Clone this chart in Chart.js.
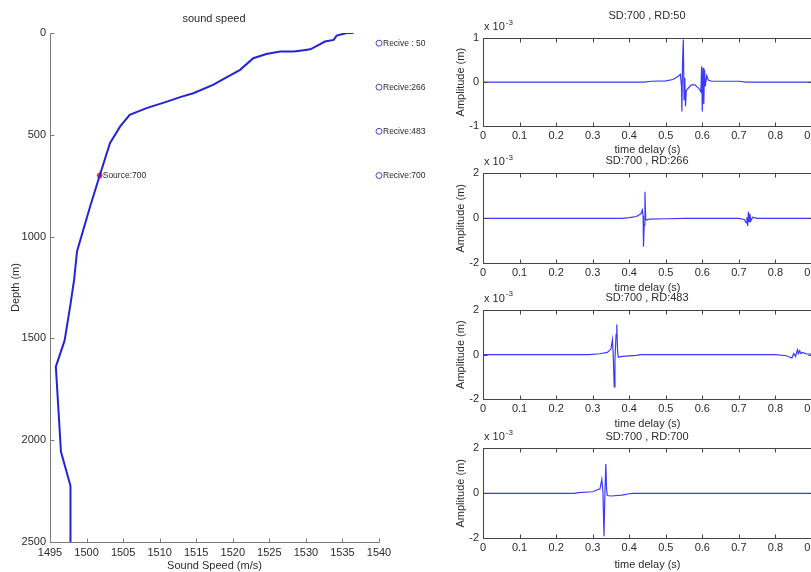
<!DOCTYPE html>
<html>
<head>
<meta charset="utf-8">
<script src="https://cdn.jsdelivr.net/npm/chart.js@4.4.1/dist/chart.umd.min.js"></script>
<style>
  html, body { margin: 0; padding: 0; background: #fff; overflow: hidden; width: 811px; height: 572px; position: relative; }
  canvas { position: absolute; display: block; }
</style>
</head>
<body>
<canvas id="profile" width="428" height="573" style="left:0;top:0"></canvas>
<canvas id="rd50" width="414" height="157" style="left:440px;top:0"></canvas>
<canvas id="rd266" width="414" height="155" style="left:440px;top:140px"></canvas>
<canvas id="rd483" width="414" height="151" style="left:440px;top:280px"></canvas>
<canvas id="rd700" width="414" height="152" style="left:440px;top:420px"></canvas>
<script>
// ---- sound-speed profile: speed (m/s) against depth (m) ----
const profileSpeed = [1536.5, 1535.6, 1534.2, 1533.8, 1532.6, 1531.7, 1530.6, 1529.2, 1528.3, 1526.5,
                      1524.6, 1522.8, 1521.0, 1519.2, 1517.3, 1514.6, 1512.8, 1511.0, 1508.2, 1505.9,
                      1504.6, 1503.2, 1501.8, 1500.5, 1498.7, 1498.3, 1497.8, 1497.0, 1495.8, 1496.5,
                      1497.8, 1497.8];
const profileDepth = [0, 0, 13, 34, 42, 59, 80, 87, 91, 91,
                      103, 124, 181, 217, 255, 296, 315, 337, 369, 402,
                      459, 541, 700, 851, 1072, 1211, 1333, 1510, 1639, 2057,
                      2224, 2500];

// source and receiver positions
const sourceSpeed = 1501.8;
const sourceDepth = 700;
const sourceLabel = 'Source:700';
const receiverSpeed = 1540;
const receiverDepths = [50, 266, 483, 700];
const receiverLabels = ['Recive : 50', 'Recive:266', 'Recive:483', 'Recive:700'];

// axis ticks
const speedTicks = [1495, 1500, 1505, 1510, 1515, 1520, 1525, 1530, 1535, 1540];
const depthTicks = [0, 500, 1000, 1500, 2000, 2500];
const delayTicks = [0, 0.1, 0.2, 0.3, 0.4, 0.5, 0.6, 0.7, 0.8, 0.9];

// ---- arrival waveforms, amplitude in units of 1e-3 m ----
const rd50Time = [0, 0.44, 0.46, 0.50, 0.52, 0.535, 0.540, 0.543, 0.544, 0.546, 0.548, 0.550, 0.552, 0.554,
                  0.556, 0.560, 0.570, 0.580, 0.590, 0.596, 0.598, 0.600, 0.602, 0.604, 0.606, 0.608,
                  0.612, 0.616, 0.625, 0.70, 0.72, 0.9];
const rd50Amp  = [0, 0, 0.02, 0.03, 0.06, 0.14, 0.18, -0.1, -0.67, 0.5, 0.97, -0.40, 0.1, -0.55,
                  -0.2, -0.15, -0.06, -0.06, -0.14, -0.22, 0.36, -0.67, 0.33, -0.5, 0.28, -0.1,
                  0.15, 0.05, 0.02, 0.02, 0, 0];

const rd266Time = [0, 0.38, 0.40, 0.42, 0.432, 0.436, 0.438, 0.439, 0.441, 0.443, 0.445, 0.447, 0.455,
                   0.50, 0.55, 0.70, 0.715, 0.720, 0.722, 0.724, 0.726, 0.728, 0.730, 0.733, 0.738, 0.75, 0.9];
const rd266Amp  = [0, 0, 0.03, 0.08, 0.2, 0.37, 0.1, -1.26, -0.3, 1.18, 0.0, -0.08, -0.04,
                   -0.02, 0, 0, -0.05, -0.2, 0.05, -0.34, 0.29, -0.15, 0.2, -0.1, 0.05, 0, 0];

const rd483Time = [0, 0.29, 0.32, 0.34, 0.350, 0.354, 0.356, 0.359, 0.361, 0.364, 0.366, 0.368, 0.370,
                   0.38, 0.42, 0.43, 0.80, 0.83, 0.845, 0.850, 0.855, 0.860, 0.863, 0.866, 0.870,
                   0.875, 0.885, 0.9];
const rd483Amp  = [0, 0, 0.04, 0.1, 0.25, 0.67, 0.1, -1.45, -0.2, 0.9, 1.35, 0.2, -0.12,
                   -0.08, -0.03, 0, 0, -0.05, -0.15, 0.05, -0.08, 0.22, 0.05, 0.18, 0.05,
                   0.1, 0.03, 0.02];

const rd700Time = [0, 0.25, 0.26, 0.30, 0.320, 0.325, 0.328, 0.331, 0.333, 0.336, 0.338, 0.340,
                   0.35, 0.38, 0.40, 0.41, 0.9];
const rd700Amp  = [0, 0, 0.03, 0.07, 0.2, 0.62, 0.1, -1.91, -0.3, 1.3, 0.2, -0.1,
                   -0.12, -0.08, -0.02, 0, 0];

const FAMILY = "'Liberation Sans Narrow', 'Liberation Sans', Arial, sans-serif";
const TEXT = '#2b2b2b';
Chart.defaults.font.family = FAMILY;
Chart.defaults.font.size = 11;
Chart.defaults.color = TEXT;

const pairs = (xs, ys) => xs.map((v, i) => ({ x: v, y: ys[i] }));
const fixedTicks = list => scale => { scale.ticks = list.map(v => ({ value: v })); };

// MATLAB-style axes: inward tick marks, optional box, exponent note and point labels
const frame = {
  id: 'frame',
  afterDatasetsDraw(chart, args, o) {
    const { ctx, chartArea: a } = chart;
    const xs = chart.scales.x, ys = chart.scales.y;
    const L = Math.round(a.left) + 0.5, R = Math.round(a.right) + 0.5;
    const T = Math.round(a.top) + 0.5, B = Math.round(a.bottom) + 0.5;
    ctx.save();
    ctx.strokeStyle = o.color;
    ctx.lineWidth = 1;
    ctx.beginPath();
    if (o.box) {
      ctx.rect(L, T, R - L, B - T);
    } else {
      ctx.moveTo(L, T); ctx.lineTo(L, B); ctx.lineTo(R, B);
    }
    xs.ticks.forEach((t, i) => {
      const p = Math.round(xs.getPixelForTick(i)) + 0.5;
      ctx.moveTo(p, B); ctx.lineTo(p, B - o.tick);
      if (o.box) { ctx.moveTo(p, T); ctx.lineTo(p, T + o.tick); }
    });
    ys.ticks.forEach((t, i) => {
      const p = Math.round(ys.getPixelForTick(i)) + 0.5;
      ctx.moveTo(L, p); ctx.lineTo(L + o.tick, p);
      if (o.box) { ctx.moveTo(R, p); ctx.lineTo(R - o.tick, p); }
    });
    ctx.stroke();

    ctx.fillStyle = TEXT;
    ctx.textAlign = 'left';
    ctx.textBaseline = 'middle';
    if (o.exponent) {
      ctx.font = '11px ' + FAMILY;
      ctx.fillText('x 10', a.left + 1, a.top - 11);
      const w = ctx.measureText('x 10').width;
      ctx.font = '8px ' + FAMILY;
      ctx.fillText(o.exponent, a.left + 2 + w, a.top - 16);
    }
    (o.notes || []).forEach(n => {
      ctx.font = '8.5px ' + FAMILY;
      ctx.fillText(n.text, xs.getPixelForValue(n.x) + n.dx, ys.getPixelForValue(n.y));
    });
    ctx.restore();
  }
};

// ---- depth profile ----
new Chart(document.getElementById('profile'), {
  type: 'scatter',
  plugins: [frame],
  data: {
    datasets: [
      { data: pairs(profileSpeed, profileDepth), showLine: true, borderColor: '#2424d4', borderWidth: 2,
        pointRadius: 0, tension: 0 },
      { data: receiverDepths.map(d => ({ x: receiverSpeed, y: d })), showLine: false, pointStyle: 'circle',
        pointRadius: 3, borderColor: '#4848c8', backgroundColor: 'rgba(0,0,0,0)', borderWidth: 1, clip: false },
      { data: [{ x: sourceSpeed, y: sourceDepth }], showLine: false, pointStyle: 'star',
        pointRadius: 3, borderColor: '#ff2a2a', backgroundColor: '#ff2a2a', borderWidth: 1.5, clip: false }
    ]
  },
  options: {
    responsive: false, animation: false, events: [], devicePixelRatio: 1,
    layout: { padding: 0 },
    plugins: {
      legend: { display: false }, tooltip: { enabled: false },
      title: { display: true, text: 'sound speed', color: TEXT, font: { size: 11, weight: 'normal' },
               padding: { top: 12.4, bottom: 7.4 } },
      frame: {
        color: '#7a7a7a', tick: 4, box: false,
        notes: receiverDepths.map((d, i) => ({ x: receiverSpeed, y: d, text: receiverLabels[i], dx: 4 }))
          .concat([{ x: sourceSpeed, y: sourceDepth, text: sourceLabel, dx: 3 }])
      }
    },
    scales: {
      x: {
        type: 'linear', min: 1495, max: 1540,
        afterBuildTicks: fixedTicks(speedTicks),
        ticks: { padding: 4, maxRotation: 0, autoSkip: false, callback: v => String(v) },
        grid: { display: false, drawTicks: false }, border: { display: false },
        title: { display: true, text: 'Sound Speed (m/s)', padding: { top: 0, bottom: 0 } },
        afterFit(s) { s.height = 31; }
      },
      y: {
        type: 'linear', min: 0, max: 2500, reverse: true,
        afterBuildTicks: fixedTicks(depthTicks),
        ticks: { padding: 4, autoSkip: false, callback: v => String(v) },
        grid: { display: false, drawTicks: false }, border: { display: false },
        title: { display: true, text: 'Depth (m)', padding: { top: 9.4, bottom: 0 } },
        afterFit(s) { s.width = 50; }
      },
      yRight: {
        type: 'linear', position: 'right', display: true,
        ticks: { display: false }, grid: { display: false, drawTicks: false }, border: { display: false },
        afterFit(s) { s.width = 49; }
      }
    }
  }
});

// ---- arrival panels ----
function panel(id, time, amp, yMax, yTicks, titleText, titlePad, axisHeight) {
  new Chart(document.getElementById(id), {
    type: 'scatter',
    plugins: [frame],
    data: {
      datasets: [{ data: pairs(time, amp), showLine: true, borderColor: '#3a3aff', borderWidth: 1.2,
                   pointRadius: 0, tension: 0 }]
    },
    options: {
      responsive: false, animation: false, events: [], devicePixelRatio: 1,
      layout: { padding: 0 },
      plugins: {
        legend: { display: false }, tooltip: { enabled: false },
        title: { display: true, text: titleText, color: TEXT, font: { size: 11, weight: 'normal' },
                 padding: titlePad },
        frame: { color: '#444', tick: 4, box: true, exponent: '-3' }
      },
      scales: {
        x: {
          type: 'linear', min: 0, max: 0.9,
          afterBuildTicks: fixedTicks(delayTicks),
          ticks: { padding: 3, maxRotation: 0, autoSkip: false, callback: v => String(+v.toFixed(1)) },
          grid: { display: false, drawTicks: false }, border: { display: false },
          title: { display: true, text: 'time delay (s)', padding: { top: 0, bottom: 0 } },
          afterFit(s) { s.height = axisHeight; }
        },
        y: {
          type: 'linear', min: -yMax, max: yMax,
          afterBuildTicks: fixedTicks(yTicks),
          ticks: { padding: 4, autoSkip: false, callback: v => String(v) },
          grid: { display: false, drawTicks: false }, border: { display: false },
          title: { display: true, text: 'Amplitude (m)', padding: { top: 14.4, bottom: 0 } },
          afterFit(s) { s.width = 43; }
        },
        yRight: {
          type: 'linear', position: 'right', display: true,
          ticks: { display: false }, grid: { display: false, drawTicks: false }, border: { display: false },
          afterFit(s) { s.width = 42; }
        }
      }
    }
  });
}

panel('rd50',  rd50Time,  rd50Amp,  1, [-1, 0, 1], 'SD:700 , RD:50',  { top: 9.4,  bottom: 15.7 }, 31);
panel('rd266', rd266Time, rd266Amp, 2, [-2, 0, 2], 'SD:700 , RD:266', { top: 14.1, bottom: 6.0 },  31.7);
panel('rd483', rd483Time, rd483Amp, 2, [-2, 0, 2], 'SD:700 , RD:483', { top: 11.1, bottom: 5.7 },  31.7);
panel('rd700', rd700Time, rd700Amp, 2, [-2, 0, 2], 'SD:700 , RD:700', { top: 10.1, bottom: 5.0 },  33.7);
</script>
</body>
</html>
